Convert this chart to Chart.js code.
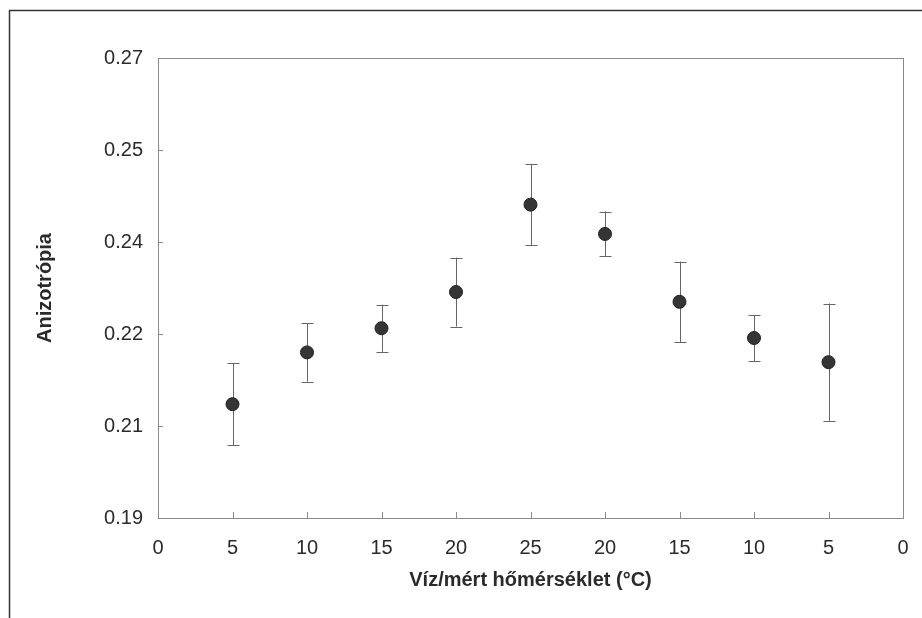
<!DOCTYPE html>
<html><head><meta charset="utf-8">
<script src="https://cdn.jsdelivr.net/npm/chart.js@4/dist/chart.umd.min.js"></script>
<style>html,body{margin:0;padding:0;background:#fff;} #wrap{width:922px;height:618px;position:relative;}</style>
</head><body><div id="wrap"><canvas id="c" width="922" height="618"></canvas></div>
<script>
const xTickLabels = ['0','5','10','15','20','25','20','15','10','5','0'];
const pointPositions = [1,2,3,4,5,6,7,8,9];
const anisotropy = [0.2098,0.2188,0.2230,0.2293,0.2445,0.2394,0.2276,0.2213,0.2171];
const errors = [0.0071,0.0051,0.0041,0.0060,0.0070,0.0039,0.0070,0.0040,0.0102];
const yTickValues = [0.19,0.206,0.222,0.238,0.254,0.27];
const yTickLabels = ['0.19','0.21','0.22','0.24','0.25','0.27'];
const xTitle = 'Víz/mért hőmérséklet (°C)';
const yTitle = 'Anizotrópia';

const points = pointPositions.map((x, i) => ({x: x, y: anisotropy[i]}));

const decorPlugin = {
  id: 'decor',
  beforeDraw(chart) {
    const ctx = chart.ctx;
    ctx.save();
    ctx.fillStyle = '#fff';
    ctx.fillRect(0, 0, chart.width, chart.height);
    // outer frame
    ctx.strokeStyle = '#333';
    ctx.lineWidth = 1.5;
    ctx.beginPath();
    ctx.moveTo(9.5, 618);
    ctx.lineTo(9.5, 10.5);
    ctx.lineTo(922, 10.5);
    ctx.stroke();
    ctx.restore();
  },
  beforeDatasetsDraw(chart) {
    const ctx = chart.ctx;
    const a = chart.chartArea;
    const xs = chart.scales.x, ys = chart.scales.y;
    ctx.save();
    // plot border
    ctx.strokeStyle = '#8a8a8a';
    ctx.lineWidth = 1;
    ctx.strokeRect(Math.round(a.left) + 0.5, Math.round(a.top) + 0.5, Math.round(a.right - a.left), Math.round(a.bottom - a.top));
    // inner ticks
    ctx.beginPath();
    ys.ticks.forEach(t => {
      const py = Math.round(ys.getPixelForValue(t.value)) + 0.5;
      ctx.moveTo(a.left, py); ctx.lineTo(a.left + 5, py);
    });
    xs.ticks.forEach(t => {
      const px = Math.round(xs.getPixelForValue(t.value)) + 0.5;
      ctx.moveTo(px, a.bottom); ctx.lineTo(px, a.bottom - 6);
    });
    ctx.stroke();
    // error bars
    ctx.strokeStyle = '#666';
    ctx.lineWidth = 1;
    ctx.beginPath();
    pointPositions.forEach((x, i) => {
      const px = Math.round(xs.getPixelForValue(x)) + 0.5;
      const yTop = ys.getPixelForValue(anisotropy[i] + errors[i]);
      const yBot = ys.getPixelForValue(anisotropy[i] - errors[i]);
      ctx.moveTo(px, yTop); ctx.lineTo(px, yBot);
      ctx.moveTo(px - 6, Math.round(yTop) + 0.5); ctx.lineTo(px + 6, Math.round(yTop) + 0.5);
      ctx.moveTo(px - 6, Math.round(yBot) + 0.5); ctx.lineTo(px + 6, Math.round(yBot) + 0.5);
    });
    ctx.stroke();
    ctx.restore();
  }
};

new Chart(document.getElementById('c'), {
  type: 'scatter',
  data: {
    datasets: [{
      data: points,
      pointRadius: 6.5,
      pointBackgroundColor: '#353535',
      pointBorderColor: '#222',
      pointBorderWidth: 1,
      showLine: false
    }]
  },
  options: {
    responsive: false,
    animation: false,
    devicePixelRatio: 1,
    layout: {padding: {top: 58, right: 19, left: 0, bottom: 0}},
    plugins: {legend: {display: false}, tooltip: {enabled: false}},
    scales: {
      x: {
        type: 'linear', min: 0, max: 10,
        grid: {display: false, drawTicks: false},
        border: {display: false},
        afterBuildTicks: (s) => { s.ticks = xTickLabels.map((_, i) => ({value: i})); },
        afterFit: (s) => { s.height = 100; s.paddingRight = 0; s.paddingLeft = 0; },
        ticks: {
          autoSkip: false, maxRotation: 0, padding: 18,
          color: '#2a2a2a',
          font: {family: 'Liberation Sans, Arial, sans-serif', size: 20},
          callback: (v, i) => xTickLabels[i]
        },
        title: {
          display: true, text: xTitle, color: '#2a2a2a',
          font: {family: 'Liberation Sans, Arial, sans-serif', size: 20, weight: 'bold'},
          padding: {top: 0, bottom: 26}
        }
      },
      y: {
        type: 'linear', min: 0.19, max: 0.27,
        grid: {display: false, drawTicks: false},
        border: {display: false},
        afterBuildTicks: (s) => { s.ticks = yTickValues.map(v => ({value: v})); },
        afterFit: (s) => { s.width = 158; },
        ticks: {
          padding: 15,
          color: '#2a2a2a',
          font: {family: 'Liberation Sans, Arial, sans-serif', size: 20},
          callback: (v, i) => yTickLabels[i]
        },
        title: {
          display: true, text: yTitle, color: '#2a2a2a',
          font: {family: 'Liberation Sans, Arial, sans-serif', size: 20, weight: 'bold'},
          padding: {top: 33, bottom: 0}
        }
      }
    }
  },
  plugins: [decorPlugin]
});
</script>
</body></html>
